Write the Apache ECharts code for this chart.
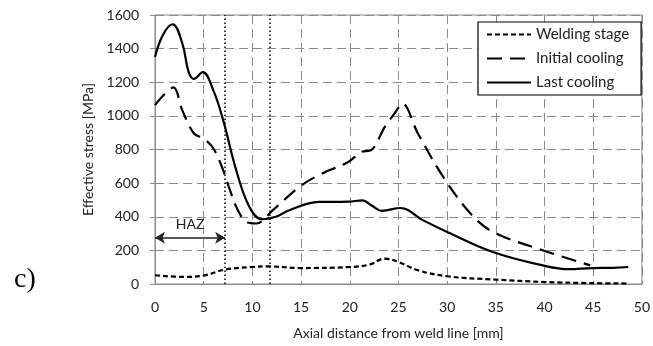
<!DOCTYPE html>
<html lang="en">
  <head>
    <meta charset="UTF-8" />
    <title>Effective stress</title>
    <script src="https://cdn.jsdelivr.net/npm/echarts@6/dist/echarts.min.js"></script>
  </head>
  <body style="margin: 0">
    <div id="chart" style="width: 653px; height: 346px"></div>
  </body>
  <script>
    // Welding stage
    const weldX = [0, 3, 5, 7.2, 10, 11.5, 15, 20, 22, 23.6, 25, 27, 30, 35, 40, 45, 48.6]
    const weldY = [52, 42, 50, 86, 101, 105, 95, 101, 115, 151, 131, 82, 46, 26, 12, 5, 3]
    // Initial cooling
    const initX = [0, 1.0, 1.9, 2.8, 4.0, 5.0, 6.0, 7.0, 7.7, 8.5, 9.4, 10.4, 12.1, 14.8, 16.8, 19.85, 21.2, 22.2, 23.6, 24.6, 25.4, 27.0, 29.6, 32.4, 34.7, 39.8, 44.7]
    const initY = [1064, 1130, 1169, 1034, 895, 865, 806, 677, 558, 440, 369, 360, 439, 577, 647, 726, 786, 796, 935, 1014, 1074, 895, 637, 419, 310, 201, 111]
    // Last cooling
    const lastX = [0, 0.8, 1.8, 2.8, 3.45, 4.0, 4.9, 6.0, 7.0, 8.35, 9.7, 11.0, 12.4, 13.8, 16.8, 19.85, 21.3, 22.3, 23.3, 25.2, 27.5, 30, 34.7, 39.8, 42.5, 44.9, 47, 48.6]
    const lastY = [1350, 1480, 1545, 1432, 1262, 1220, 1260, 1150, 975, 675, 458, 385, 400, 439, 488, 490, 497, 465, 435, 452, 380, 310, 190, 111, 88, 95, 96, 101]

    const seriesNames = ['Welding stage', 'Initial cooling', 'Last cooling']
    const hazBounds = [7.2, 11.8] // dotted vertical lines [mm]
    const hazArrowY = 275

    const pairs = (xs, ys) => xs.map((x, i) => [x, ys[i]])

    const chart = echarts.init(document.getElementById('chart'))
    const font = 'Lato, "Open Sans", sans-serif'

    chart.setOption({
      animation: false,
      backgroundColor: '#fff',
      grid: {
        left: 155,
        right: 8,
        top: 15,
        bottom: 62,
        show: true,
        borderColor: '#8a8a8a',
        borderWidth: 1
      },
      legend: {
        orient: 'vertical',
        left: 478,
        top: 22,
        padding: [5, 12, 5, 8],
        itemGap: 9,
        itemWidth: 44,
        itemHeight: 14,
        borderColor: '#000',
        borderWidth: 1.2,
        backgroundColor: '#fff',
        itemStyle: { opacity: 0 },
        textStyle: { fontFamily: font, fontSize: 15, color: '#222' },
        data: seriesNames
      },
      xAxis: {
        type: 'value',
        min: 0,
        max: 50,
        interval: 5,
        name: 'Axial distance from weld line [mm]',
        nameLocation: 'middle',
        nameGap: 42,
        nameTextStyle: { fontFamily: font, fontSize: 14, color: '#222' },
        axisLine: { lineStyle: { color: '#8a8a8a' } },
        axisTick: { show: false },
        axisLabel: { fontFamily: font, fontSize: 14, color: '#222', margin: 16 },
        splitLine: { lineStyle: { color: '#8a8a8a', type: [9, 5] } }
      },
      yAxis: {
        type: 'value',
        min: 0,
        max: 1600,
        interval: 200,
        name: 'Effective stress [MPa]',
        nameLocation: 'middle',
        nameGap: 60,
        nameTextStyle: { fontFamily: font, fontSize: 14, color: '#222' },
        axisLine: { show: true, lineStyle: { color: '#8a8a8a' } },
        axisTick: { show: true, length: 5, lineStyle: { color: '#8a8a8a' } },
        axisLabel: { fontFamily: font, fontSize: 14, color: '#222', margin: 16, formatter: v => String(v) },
        splitLine: { lineStyle: { color: '#8a8a8a', type: [9, 5] } }
      },
      graphic: [
        {
          type: 'text',
          left: 14,
          top: 266,
          style: { text: 'c)', font: '28px "Liberation Serif", serif', fill: '#000' }
        }
      ],
      series: [
        {
          name: seriesNames[0],
          type: 'line',
          smooth: 0.4,
          symbol: 'none',
          lineStyle: { color: '#000', width: 2.2, type: [5, 3] },
          itemStyle: { color: '#000' },
          data: pairs(weldX, weldY),
          markLine: {
            silent: true,
            symbol: ['none', 'none'],
            label: { show: false },
            lineStyle: { color: '#000', width: 1.5, type: [1.5, 2.5] },
            data: hazBounds.map(v => ({ xAxis: v }))
          }
        },
        {
          name: seriesNames[1],
          type: 'line',
          smooth: 0.35,
          symbol: 'none',
          lineStyle: { color: '#000', width: 2.2, type: [15, 8] },
          itemStyle: { color: '#000' },
          data: pairs(initX, initY),
          markLine: {
            silent: true,
            symbol: ['arrow', 'arrow'],
            symbolSize: [9, 10],
            lineStyle: { color: '#222', width: 1.5, type: 'solid' },
            label: {
              show: true,
              position: 'middle',
              formatter: 'HAZ',
              distance: 6,
              fontFamily: font,
              fontSize: 14,
              color: '#222'
            },
            data: [[{ coord: [0, hazArrowY] }, { coord: [hazBounds[0], hazArrowY] }]]
          }
        },
        {
          name: seriesNames[2],
          type: 'line',
          smooth: 0.4,
          symbol: 'none',
          lineStyle: { color: '#000', width: 2.2, type: 'solid' },
          itemStyle: { color: '#000' },
          data: pairs(lastX, lastY)
        }
      ]
    })
  </script>
</html>
